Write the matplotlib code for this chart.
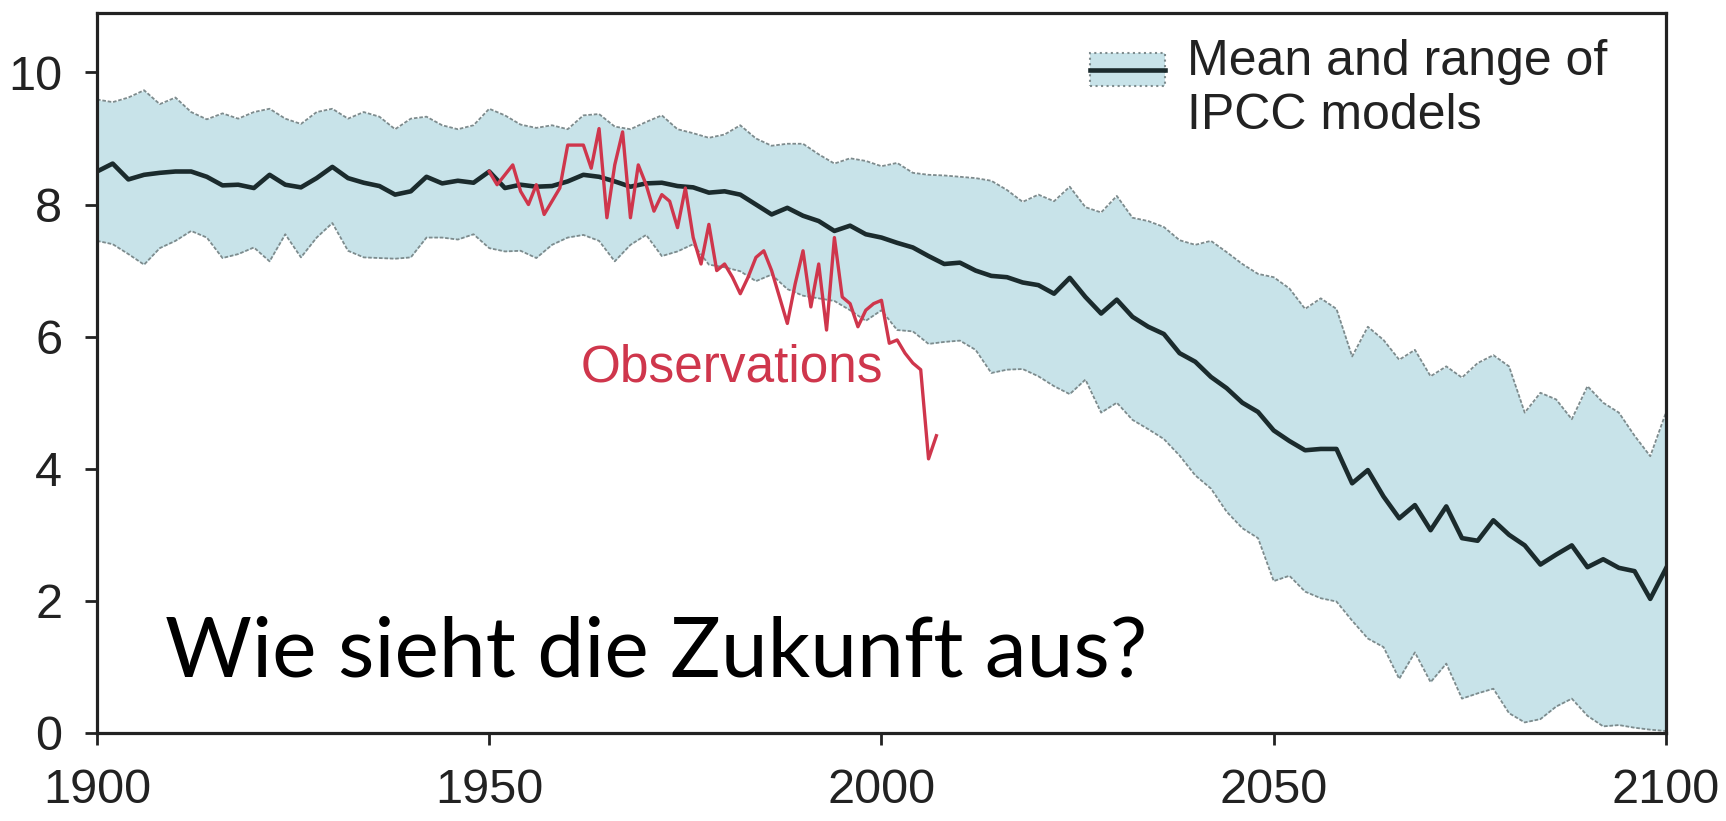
import matplotlib
matplotlib.use("Agg")
import matplotlib.pyplot as plt
from matplotlib.patches import Rectangle
from matplotlib.lines import Line2D

# model ensemble, every 2 years 1900-2100
model_years = list(range(1900, 2101, 2))

model_mean = [
    8.50, 8.62, 8.38, 8.45, 8.48, 8.50, 8.50, 8.42, 8.29, 8.30,
    8.25, 8.45, 8.30, 8.26, 8.40, 8.57, 8.40, 8.33, 8.28, 8.15,
    8.20, 8.42, 8.32, 8.36, 8.33, 8.50,
    8.25, 8.30, 8.27, 8.28, 8.35, 8.45, 8.42, 8.35, 8.27, 8.32,
    8.33, 8.28, 8.26, 8.18, 8.20, 8.15, 8.00, 7.85, 7.95, 7.83,
    7.75, 7.60, 7.68, 7.55, 7.50,
    7.42, 7.35, 7.22, 7.10, 7.12, 7.00, 6.92, 6.90, 6.82, 6.78,
    6.65, 6.89, 6.60, 6.35, 6.56, 6.30, 6.15, 6.04, 5.75, 5.62,
    5.39, 5.22, 5.00, 4.86, 4.58,
    4.42, 4.28, 4.30, 4.30, 3.78, 3.98, 3.58, 3.25, 3.45, 3.07,
    3.43, 2.95, 2.91, 3.22, 3.00, 2.84, 2.55, 2.70, 2.84, 2.51,
    2.63, 2.50, 2.45, 2.03, 2.49,
]

model_upper = [
    9.59, 9.55, 9.62, 9.73, 9.52, 9.62, 9.40, 9.29, 9.38, 9.30,
    9.40, 9.45, 9.30, 9.22, 9.40, 9.45, 9.30, 9.40, 9.33, 9.14,
    9.30, 9.33, 9.20, 9.14, 9.20, 9.45,
    9.35, 9.21, 9.16, 9.20, 9.14, 9.35, 9.37, 9.18, 9.14, 9.25,
    9.35, 9.14, 9.08, 9.01, 9.06, 9.20, 9.00, 8.89, 8.92, 8.92,
    8.76, 8.62, 8.70, 8.66, 8.58,
    8.63, 8.48, 8.45, 8.44, 8.42, 8.40, 8.36, 8.22, 8.04, 8.15,
    8.05, 8.27, 7.96, 7.88, 8.13, 7.80, 7.75, 7.66, 7.46, 7.39,
    7.45, 7.28, 7.10, 6.95, 6.90,
    6.73, 6.42, 6.58, 6.42, 5.70, 6.15, 5.95, 5.65, 5.80, 5.40,
    5.55, 5.38, 5.60, 5.72, 5.55, 4.85, 5.15, 5.05, 4.75, 5.25,
    5.00, 4.85, 4.50, 4.19, 4.85,
]

model_lower = [
    7.45, 7.40, 7.25, 7.09, 7.34, 7.45, 7.60, 7.50, 7.19, 7.25,
    7.35, 7.14, 7.55, 7.20, 7.50, 7.72, 7.30, 7.20, 7.19, 7.18,
    7.20, 7.50, 7.50, 7.47, 7.55, 7.34,
    7.29, 7.30, 7.19, 7.39, 7.50, 7.54, 7.45, 7.14, 7.39, 7.54,
    7.22, 7.29, 7.40, 7.09, 7.05, 6.99, 6.84, 6.94, 6.72, 6.62,
    6.58, 6.54, 6.40, 6.24, 6.40,
    6.10, 6.08, 5.89, 5.92, 5.94, 5.80, 5.45, 5.50, 5.51, 5.40,
    5.25, 5.13, 5.35, 4.85, 5.00, 4.74, 4.60, 4.45, 4.20, 3.90,
    3.70, 3.35, 3.10, 2.95, 2.30,
    2.38, 2.14, 2.04, 1.99, 1.70, 1.43, 1.30, 0.82, 1.22, 0.77,
    1.05, 0.52, 0.60, 0.67, 0.30, 0.16, 0.21, 0.40, 0.52, 0.26,
    0.10, 0.12, 0.08, 0.05, 0.03,
]

# observed September sea ice, yearly 1950-2007
obs_years = list(range(1950, 2008))
obs_values = [
    8.50, 8.30, 8.45, 8.60, 8.20, 8.00, 8.30, 7.85, 8.05, 8.25,
    8.90, 8.90, 8.90, 8.55, 9.15, 7.80, 8.60, 9.10, 7.80, 8.60,
    8.30, 7.90, 8.15, 8.05, 7.65, 8.25, 7.50, 7.10, 7.70, 7.00,
    7.10, 6.90, 6.65, 6.90, 7.20, 7.30, 7.00, 6.60, 6.20, 6.80,
    7.30, 6.45, 7.10, 6.10, 7.50, 6.60, 6.50, 6.15, 6.40, 6.50,
    6.55, 5.90, 5.95, 5.75, 5.60, 5.50, 4.15, 4.50,
]

x_ticks = [1900, 1950, 2000, 2050, 2100]
y_ticks = [0, 2, 4, 6, 8, 10]

fill_col = "#c8e3e9"
mean_col = "#1b2b2d"
edge_col = "#7d8b8d"
red_col = "#cf364c"

fig = plt.figure(figsize=(17.26, 8.21), dpi=100)
ax = fig.add_axes([0.0562, 0.1072, 0.909, 0.877])

ax.fill_between(model_years, model_lower, model_upper, color=fill_col, lw=0)
ax.plot(model_years, model_upper, color=edge_col, lw=1.3, ls=(0, (2, 1)))
ax.plot(model_years, model_lower, color=edge_col, lw=1.3, ls=(0, (2, 1)))
ax.plot(model_years, model_mean, color=mean_col, lw=3.3)
ax.plot(obs_years, obs_values, color=red_col, lw=2.4)

ax.text(1980.9, 5.52, "Observations", color=red_col, fontsize=37,
        family="Liberation Sans", ha="center", va="center")

ax.text(1908.7, 0.85, "Wie sieht die Zukunft aus?", color="black", fontsize=60.5,
        family="Lato", ha="left", va="baseline")

# legend key drawn by hand (box = range, line = mean)
ax.add_patch(Rectangle((0.633, 0.899), 0.048, 0.045, transform=ax.transAxes,
                       facecolor=fill_col, edgecolor=edge_col, linestyle=":",
                       lw=1.5, clip_on=False))
ax.add_line(Line2D([0.633, 0.681], [0.921, 0.921], transform=ax.transAxes,
                   color=mean_col, lw=3.3))
ax.text(0.695, 0.894, "Mean and range of\nIPCC models", transform=ax.transAxes,
        family="Liberation Sans", fontsize=36, color="#222222",
        ha="left", va="center", linespacing=1.22)

ax.set_xlim(1900, 2100)
ax.set_ylim(0, 10.9)
ax.set_xticks(x_ticks)
ax.set_yticks(y_ticks)
ax.tick_params(direction="out", length=8.5, width=2, pad=16.5, labelsize=35,
               colors="#222222")
for lab in ax.get_xticklabels() + ax.get_yticklabels():
    lab.set_family("Liberation Sans")
for s in ax.spines.values():
    s.set_linewidth(2.3)
    s.set_color("#222222")

fig.savefig("out.png", dpi=100)
